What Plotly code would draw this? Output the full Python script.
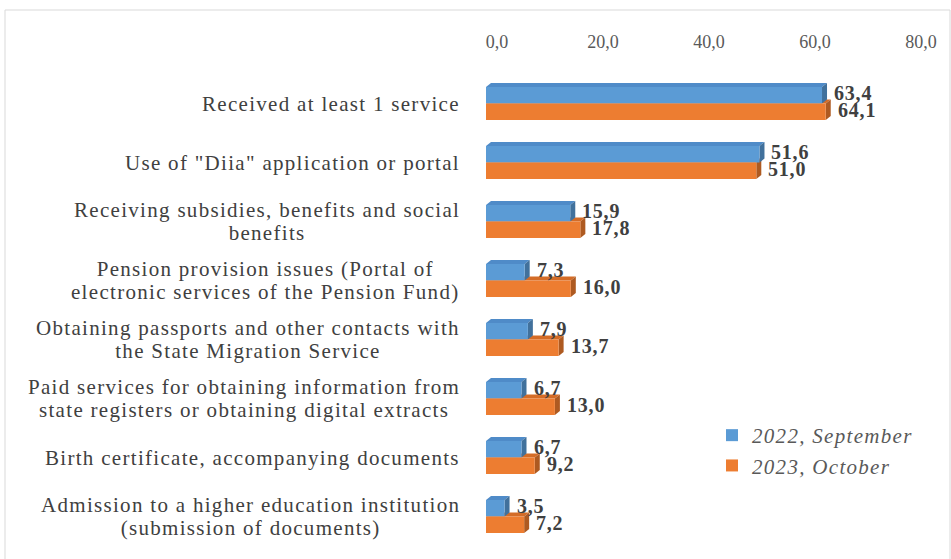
import plotly.graph_objects as go

categories = [
    "Received at least 1 service",
    'Use of "Diia" application or portal',
    "Receiving subsidies, benefits and social<br>benefits",
    "Pension provision issues (Portal of<br>electronic services of the Pension Fund)",
    "Obtaining passports and other contacts with<br>the State Migration Service",
    "Paid services for obtaining information from<br>state registers or obtaining digital extracts",
    "Birth certificate, accompanying documents",
    "Admission to a higher education institution<br>(submission of documents)",
]
series_names = ["2022, September", "2023, October"]
values_2022 = [63.4, 51.6, 15.9, 7.3, 7.9, 6.7, 6.7, 3.5]
values_2023 = [64.1, 51.0, 17.8, 16.0, 13.7, 13.0, 9.2, 7.2]
x_ticks = [0, 20, 40, 60, 80]

FONT = "Liberation Serif, Times New Roman, serif"
W, H = 951, 559
ML, MR, MT, MB = 486, 41, 74, 13
PW = W - ML - MR
PH = H - MT - MB
XMAX = 80
px_x = PW / XMAX
px_y = PH / len(categories)

BAR_W = 0.28
DX = 5 / px_x
DY = 4 / px_y

front = ["#5B9BD5", "#ED7D31"]
top = ["#4F8BC8", "#D46C27"]
side = ["#41719C", "#AE5A21"]

idx = list(range(len(categories)))
fig = go.Figure()
series = [values_2022, values_2023]
offsets = [-BAR_W, 0.0]

shapes = []
annotations = []
for s in [1, 0]:
    vals = series[s]
    for i, v in zip(idx, vals):
        y_top = i + offsets[s]
        y_bot = y_top + BAR_W
        shapes.append(dict(
            type="path", xref="x", yref="y", layer="below",
            path=f"M 0 {y_top} L {v} {y_top} L {v+DX} {y_top-DY} L {DX} {y_top-DY} Z",
            fillcolor=top[s], line=dict(width=0)))
        shapes.append(dict(
            type="path", xref="x", yref="y", layer="below",
            path=f"M {v} {y_top} L {v+DX} {y_top-DY} L {v+DX} {y_bot-DY} L {v} {y_bot} Z",
            fillcolor=side[s], line=dict(width=0)))
        lbl = f"{v:.1f}".replace(".", ",")
        annotations.append(dict(
            x=v + DX, y=y_top + BAR_W / 2 - DY / 2, xref="x", yref="y",
            text=f'<span style="letter-spacing:0.8px">{lbl}</span>', showarrow=False,
            xanchor="left", yanchor="middle", xshift=5,
            font=dict(family=FONT, size=20, color="#404040", weight="bold")))

for s in range(2):
    fig.add_trace(go.Bar(
        y=idx, x=series[s], orientation="h",
        name=f'<span style="letter-spacing:1.3px">{series_names[s]}</span>',
        marker=dict(color=front[s], line=dict(width=0)),
        width=BAR_W, offset=offsets[s], hoverinfo="skip"))

for i, c in zip(idx, categories):
    lines = c.split("<br>")
    txt = "<br>".join(
        f'<span style="font-size:21px;letter-spacing:1.3px">{ln}</span>' for ln in lines)
    annotations.append(dict(
        x=0, y=i, xref="paper", yref="y", text=txt, showarrow=False,
        xanchor="right", yanchor="middle", align="center", xshift=-24,
        font=dict(family=FONT, size=17.5, color="#404040")))

shapes.append(dict(
    type="rect", xref="paper", yref="paper",
    x0=(5 - ML) / PW, x1=(950 - ML) / PW,
    y0=-(MB + 5) / PH, y1=1 + (MT - 10) / PH,
    line=dict(color="#D9D9D9", width=1), fillcolor="rgba(0,0,0,0)"))

fig.update_layout(
    width=W, height=H,
    margin=dict(l=ML, r=MR, t=MT, b=MB),
    paper_bgcolor="white", plot_bgcolor="white",
    barmode="overlay",
    separators=", ",
    shapes=shapes, annotations=annotations,
    showlegend=True,
    legend=dict(
        x=(712 - ML) / PW, y=1 - (415 - MT) / PH, xanchor="left", yanchor="top",
        font=dict(family=FONT, size=21, color="#595959", style="italic"),
        bgcolor="rgba(0,0,0,0)", itemwidth=30, tracegroupgap=0),
    xaxis=dict(
        side="top", range=[0, XMAX], tickvals=x_ticks, tickformat=".1f",
        showgrid=False, zeroline=False, showline=False, ticks="",
        tickfont=dict(family=FONT, size=18, color="#595959"),
        ticklabelshift=11, ticklabelstandoff=21, automargin=False),
    yaxis=dict(
        range=[len(categories) - 0.5, -0.5], tickvals=idx, showticklabels=False,
        showgrid=False, zeroline=False, showline=False, ticks="",
        automargin=False),
)

fig.write_html("out.html")
